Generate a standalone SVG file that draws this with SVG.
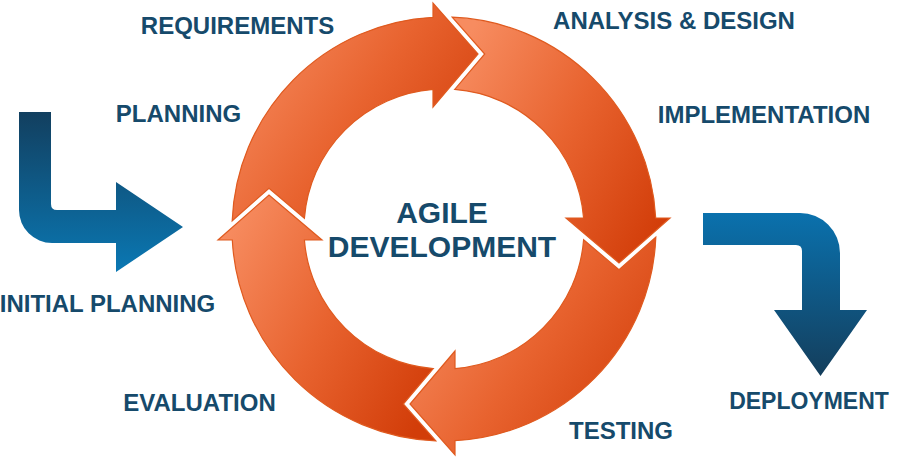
<svg xmlns="http://www.w3.org/2000/svg" width="900" height="461" viewBox="0 0 900 461">
  <defs>
    <linearGradient id="og" x1="0" y1="0.2" x2="1" y2="0.8">
      <stop offset="0" stop-color="#f78c60"/>
      <stop offset="0.5" stop-color="#e8632f"/>
      <stop offset="1" stop-color="#d23d09"/>
    </linearGradient>
    <linearGradient id="bgL" gradientUnits="userSpaceOnUse" x1="0" y1="112" x2="0" y2="275">
      <stop offset="0" stop-color="#123f5f"/>
      <stop offset="1" stop-color="#0a79b5"/>
    </linearGradient>
    <linearGradient id="bgR" gradientUnits="userSpaceOnUse" x1="0" y1="213" x2="0" y2="376">
      <stop offset="0" stop-color="#0a71ad"/>
      <stop offset="1" stop-color="#143e5c"/>
    </linearGradient>
    <style>
      .arc { fill: url(#og); stroke: #df5a1f; stroke-width: 1.2; stroke-linejoin: miter; }
      .lbl { font-family: "Liberation Sans", Arial, sans-serif; font-weight: bold; font-size: 24px; fill: #164a6b; text-anchor: middle; }
      .ctr { font-family: "Liberation Sans", Arial, sans-serif; font-weight: bold; font-size: 30px; fill: #164a6b; text-anchor: middle; }
    </style>
  </defs>
  <rect width="900" height="461" fill="#ffffff"/>

  <g id="cycle">
    <g id="arrow-requirements">
      <path class="arc" d="M 232.2 220.8 A 212 212 0 0 1 433 17.3 L 433 3 L 478 54 L 433 107 L 433 89.4 A 140 140 0 0 0 304.4 218.3 L 269 188.3 Z"/>
    </g>
    <g id="arrow-design">
      <path class="arc" d="M 452.2 17.2 A 212 212 0 0 1 655.7 218 L 670 218 L 619 263 L 566 218 L 583.6 218 A 140 140 0 0 0 454.7 89.4 L 484.7 54 Z"/>
    </g>
    <g id="arrow-testing">
      <path class="arc" d="M 655.8 237.2 A 212 212 0 0 1 455 440.7 L 455 455 L 410 404 L 455 351 L 455 368.6 A 140 140 0 0 0 583.6 239.7 L 619 269.7 Z"/>
    </g>
    <g id="arrow-evaluation">
      <path class="arc" d="M 435.8 440.8 A 212 212 0 0 1 232.3 240 L 218 240 L 269 195 L 322 240 L 304.4 240 A 140 140 0 0 0 433.3 368.6 L 403.3 404 Z"/>
    </g>
  </g>

  <g id="connectors">
    <path id="initial-arrow" fill="url(#bgL)" d="M 19 112 L 51 112 L 51 204 Q 51 210 57 210 L 116 210 L 116 182 L 183 227 L 116 272 L 116 243 L 52 243 A 33 33 0 0 1 19 210 Z"/>
    <path id="deploy-arrow" fill="url(#bgR)" d="M 703 213 L 800 213 A 40 40 0 0 1 840 253 L 840 310 L 867 310 L 820.5 376 L 774 310 L 802 310 L 802 251 Q 802 245 796 245 L 703 245 Z"/>
  </g>

  <g id="center">
    <text class="ctr" x="442" y="223">AGILE</text>
    <text class="ctr" x="442" y="257">DEVELOPMENT</text>
  </g>

  <g id="labels">
    <g id="n-requirements"><text class="lbl" x="237.5" y="34">REQUIREMENTS</text></g>
    <g id="n-analysis"><text class="lbl" x="674" y="29">ANALYSIS &amp; DESIGN</text></g>
    <g id="n-planning"><text class="lbl" x="178.5" y="122">PLANNING</text></g>
    <g id="n-implementation"><text class="lbl" x="764" y="123">IMPLEMENTATION</text></g>
    <g id="n-initial"><text class="lbl" x="107.5" y="312">INITIAL PLANNING</text></g>
    <g id="n-evaluation"><text class="lbl" x="199.5" y="411">EVALUATION</text></g>
    <g id="n-testing"><text class="lbl" x="621" y="439">TESTING</text></g>
    <g id="n-deployment"><text class="lbl" x="809" y="409" style="font-size:23px">DEPLOYMENT</text></g>
  </g>
</svg>
